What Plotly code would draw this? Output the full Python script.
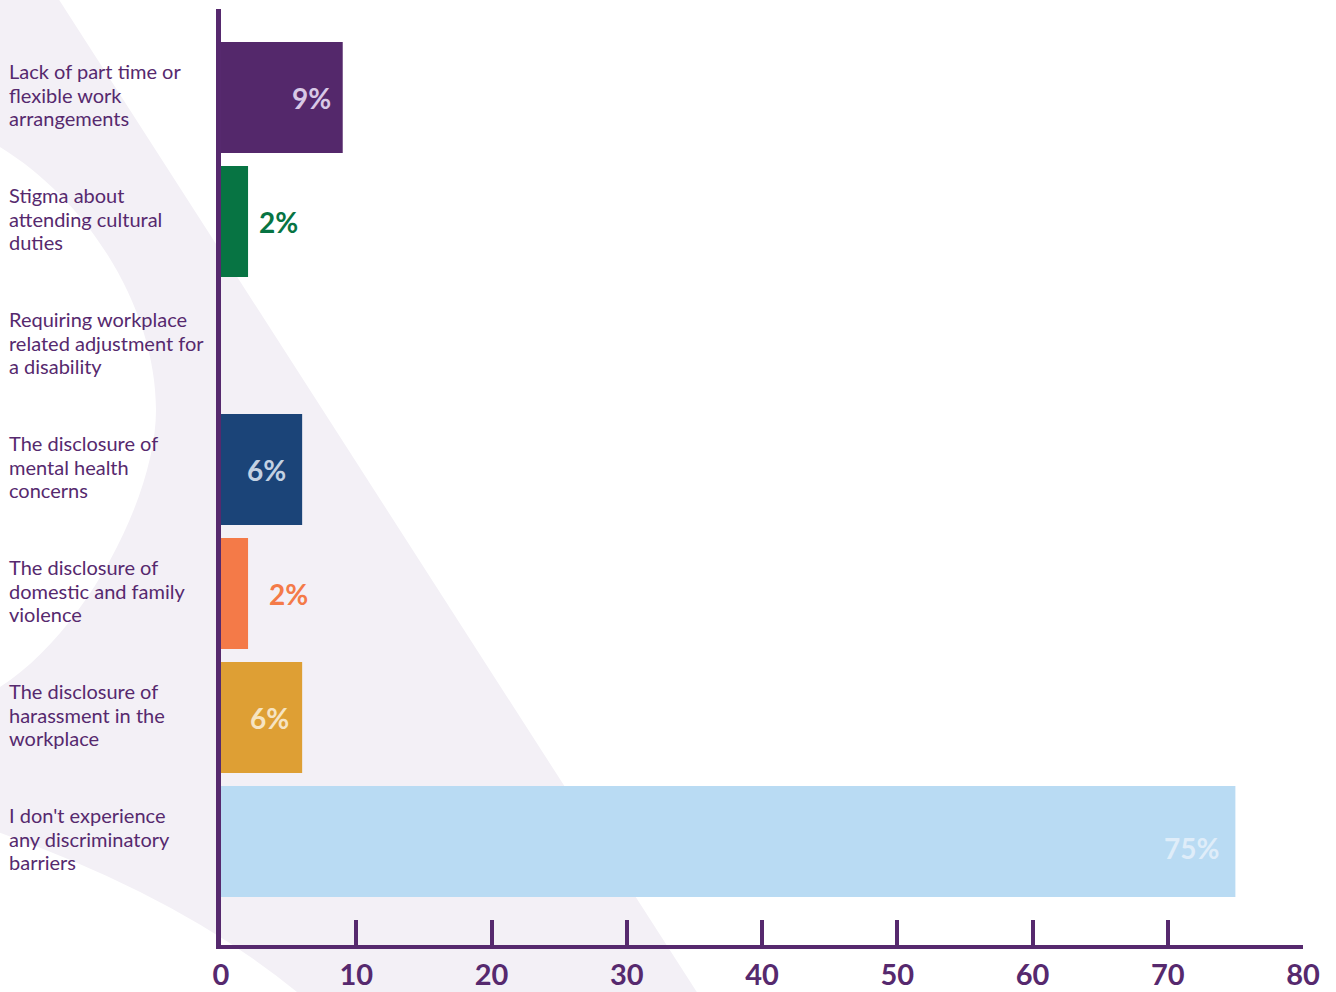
import plotly.graph_objects as go

# Survey categories (top to bottom) and share of respondents (%)
categories = [
    "Lack of part time or<br>flexible work<br>arrangements",
    "Stigma about<br>attending cultural<br>duties",
    "Requiring workplace<br>related adjustment for<br>a disability",
    "The disclosure of<br>mental health<br>concerns",
    "The disclosure of<br>domestic and family<br>violence",
    "The disclosure of<br>harassment in the<br>workplace",
    "I don't experience<br>any discriminatory<br>barriers",
]
values = [9, 2, 0, 6, 2, 6, 75]
value_labels = ["9%", "2%", "", "6%", "2%", "6%", "75%"]
x_ticks = [0, 10, 20, 30, 40, 50, 60, 70, 80]

# Styling
bar_colors = ["#54286b", "#077443", "#54286b", "#1b4478", "#f47a48", "#de9f34", "#b9dbf3"]
label_colors = ["#d8c8e6", "#077443", "#ffffff", "#c4d2e2", "#f47a48", "#f6e4c2", "#dfedf9"]
label_inside = [True, False, True, True, False, True, True]
label_pad = [10, 9, 0, 14, 19, 11, 14]
label_yshift = [0, 0, 0, 0, 0, 0, -6]

PURPLE = "#56296e"
LAVENDER = "#f3f0f6"
FONT = "Lato"
LINE_STEP = 23.5   # spacing between lines of a category label, px

# Plot-area geometry in pixels
W, H = 1336, 992
L, T, R, B = 221, 9, 33, 47
PW, PH = W - L - R, H - T - B


def px(x, y):
    """Convert a pixel position on the page to paper coordinates."""
    return f"{(x - L) / PW:.5f},{(H - B - y) / PH:.5f}"


# Decorative background band behind the chart
band_path = (
    f"M {px(-5, -5)} L {px(56, -5)} L {px(700, 997)} L {px(303, 997)} "
    f"Q {px(185, 898)} {px(-5, 831)} L {px(-5, 690)} "
    f"C {px(80, 640)} {px(156, 500)} {px(156, 410)} "
    f"C {px(156, 310)} {px(90, 200)} {px(-5, 144)} Z"
)

fig = go.Figure()
fig.add_trace(go.Bar(
    x=values,
    y=categories,
    orientation="h",
    marker=dict(color=bar_colors, line=dict(width=0)),
    hoverinfo="skip",
))

annotations = []
for cat, v, lab, col, inside, pad, ys in zip(
    categories, values, value_labels, label_colors, label_inside, label_pad, label_yshift
):
    if not lab:
        continue
    annotations.append(dict(
        x=v, y=cat, xref="x", yref="y",
        text=lab, showarrow=False,
        xanchor="right" if inside else "left",
        xshift=-pad if inside else pad,
        yshift=ys,
        font=dict(family=FONT, size=28, color=col, weight=700),
    ))

# Category labels, left aligned at the page edge, one annotation per line
for cat in categories:
    lines = cat.split("<br>")
    n = len(lines)
    for i, line in enumerate(lines):
        annotations.append(dict(
            x=(7 - L) / PW, y=cat, xref="paper", yref="y",
            text=line, showarrow=False,
            xanchor="left", yanchor="middle", align="left",
            yshift=-((i - (n - 1) / 2) * LINE_STEP) + 3,
            font=dict(family=FONT, size=20, color=PURPLE),
        ))

top_idx = (T - 97.5) / 124
bottom_idx = top_idx + PH / 124

fig.update_layout(
    width=W, height=H,
    margin=dict(l=L, r=R, t=T, b=B, pad=0, autoexpand=False),
    paper_bgcolor="white",
    plot_bgcolor="rgba(0,0,0,0)",
    bargap=0.105,
    showlegend=False,
    annotations=annotations,
    shapes=[dict(
        type="path", path=band_path, xref="paper", yref="paper",
        fillcolor=LAVENDER, line=dict(width=0), layer="below",
    )],
    xaxis=dict(
        range=[0, 80], tickvals=x_ticks, ticktext=[str(t) for t in x_ticks],
        showgrid=False, zeroline=False, automargin=False,
        showline=True, linewidth=4, linecolor=PURPLE,
        ticks="inside", ticklen=25, tickwidth=4, tickcolor=PURPLE,
        tickfont=dict(family=FONT, size=29, color=PURPLE, weight=700),
        ticklabelstandoff=1,
        fixedrange=True,
    ),
    yaxis=dict(
        type="category",
        range=[bottom_idx, top_idx],
        showgrid=False, zeroline=False, automargin=False,
        showline=True, linewidth=5, linecolor=PURPLE,
        showticklabels=False, ticks="",
        fixedrange=True,
    ),
)

fig.write_html("out.html", config={"displayModeBar": False})
